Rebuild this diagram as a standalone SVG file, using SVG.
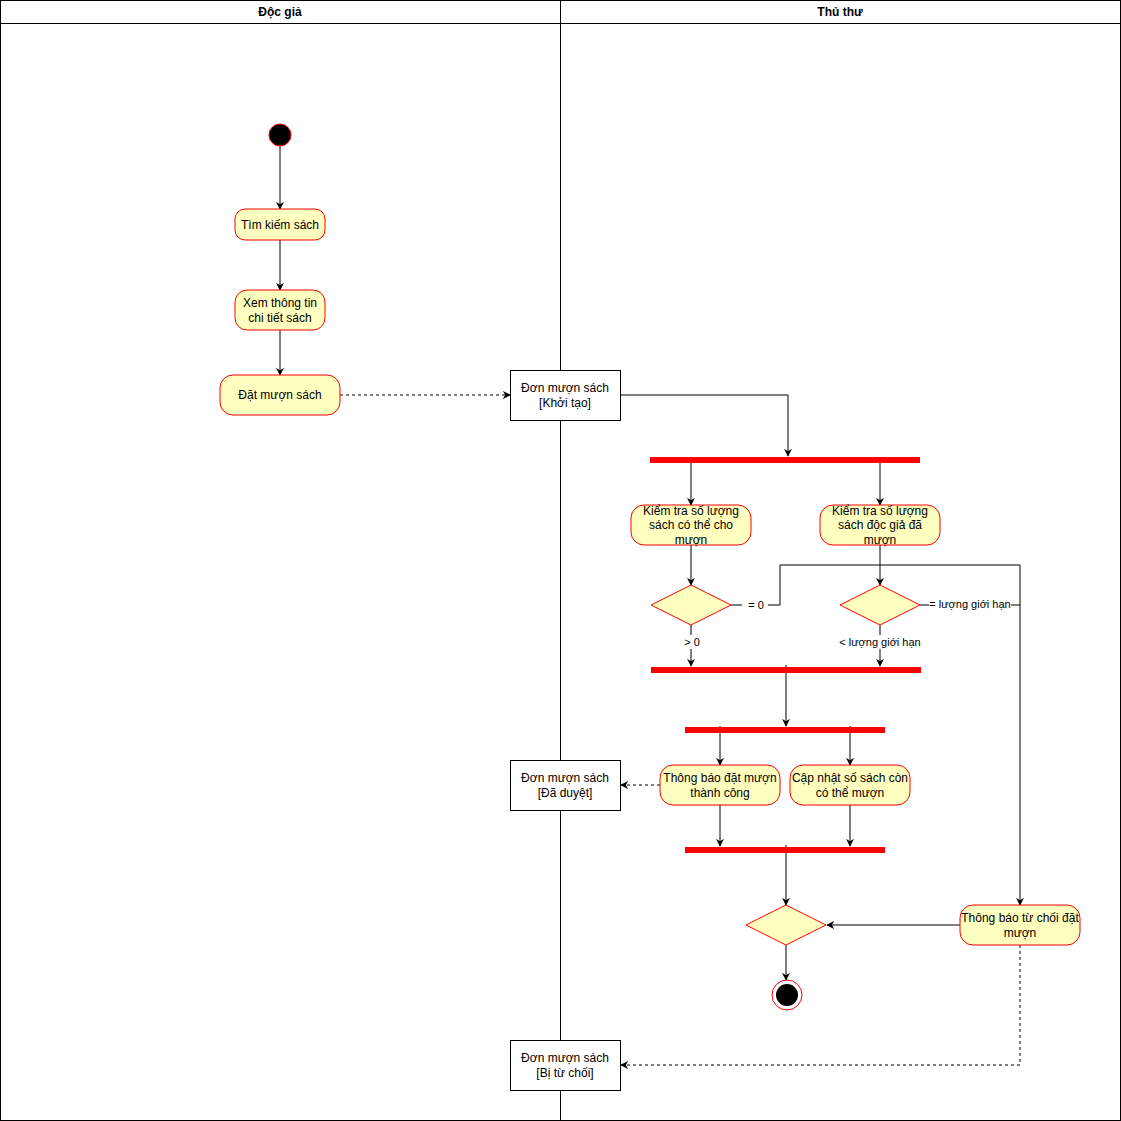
<svg xmlns="http://www.w3.org/2000/svg" width="1121" height="1121" viewBox="0 0 1121 1121">
<style>
text{font-family:"Liberation Sans",Arial,sans-serif;font-size:12px;fill:#000;text-anchor:middle}
.hdr{font-weight:bold}
.act{fill:#ffffc0;stroke:#ff0000;stroke-width:1}
.obj{fill:#fff;stroke:#000;stroke-width:1}
.bar{fill:#ff0000;stroke:none}
.ln{fill:none;stroke:#000;stroke-width:1}
.dash{fill:none;stroke:#000;stroke-width:1;stroke-dasharray:3 3}
.lbl{font-size:11px}
</style>
<defs>
<marker id="arr" viewBox="0 0 10 10" refX="9" refY="5" markerWidth="8" markerHeight="8" orient="auto" markerUnits="userSpaceOnUse">
<path d="M0,0 L10,5 L0,10 L3,5 Z" fill="#000"/>
</marker>
</defs>
<rect x="0" y="0" width="1121" height="1121" fill="#fff"/>
<g id="lanes">
<rect x="0.5" y="0.5" width="1120" height="1120" fill="none" stroke="#000"/>
<line x1="0" y1="23.5" x2="1121" y2="23.5" stroke="#000"/>
<line x1="560.5" y1="0" x2="560.5" y2="1121" stroke="#000"/>
<text class="hdr" x="280" y="16">Độc giả</text>
<text class="hdr" x="840" y="16">Thủ thư</text>
</g>
<g id="connectors">
<line class="ln" x1="280" y1="146" x2="280" y2="209" marker-end="url(#arr)"/>
<line class="ln" x1="280" y1="240" x2="280" y2="290" marker-end="url(#arr)"/>
<line class="ln" x1="280" y1="330" x2="280" y2="375" marker-end="url(#arr)"/>
<line class="dash" x1="340" y1="395" x2="510" y2="395" marker-end="url(#arr)"/>
<polyline class="ln" points="620,395 788,395 788,456" marker-end="url(#arr)"/>
<line class="ln" x1="691" y1="463" x2="691" y2="505" marker-end="url(#arr)"/>
<line class="ln" x1="880" y1="463" x2="880" y2="505" marker-end="url(#arr)"/>
<line class="ln" x1="691" y1="545" x2="691" y2="585" marker-end="url(#arr)"/>
<line class="ln" x1="880" y1="545" x2="880" y2="585" marker-end="url(#arr)"/>
<polyline class="ln" points="731,605 780,605 780,565 1020,565 1020,905" marker-end="url(#arr)"/>
<line class="ln" x1="920" y1="605" x2="1020" y2="605"/>
<line class="ln" x1="691" y1="625" x2="691" y2="666" marker-end="url(#arr)"/>
<line class="ln" x1="880" y1="625" x2="880" y2="666" marker-end="url(#arr)"/>
<line class="ln" x1="786" y1="665" x2="786" y2="726" marker-end="url(#arr)"/>
<line class="ln" x1="720" y1="726" x2="720" y2="765" marker-end="url(#arr)"/>
<line class="ln" x1="850" y1="726" x2="850" y2="765" marker-end="url(#arr)"/>
<line class="dash" x1="660" y1="785" x2="621" y2="785" marker-end="url(#arr)"/>
<line class="ln" x1="720" y1="805" x2="720" y2="846" marker-end="url(#arr)"/>
<line class="ln" x1="850" y1="805" x2="850" y2="846" marker-end="url(#arr)"/>
<line class="ln" x1="786" y1="845" x2="786" y2="905" marker-end="url(#arr)"/>
<line class="ln" x1="960" y1="925" x2="827" y2="925" marker-end="url(#arr)"/>
<line class="ln" x1="786" y1="945" x2="786" y2="980" marker-end="url(#arr)"/>
<polyline class="dash" points="1020,945 1020,1065 621,1065" marker-end="url(#arr)"/>
<rect x="742" y="598" width="26" height="14" fill="#fff"/>
<text class="lbl" x="756" y="609">= 0</text>
<rect x="929" y="597" width="82" height="14" fill="#fff"/>
<text class="lbl" x="970" y="608">= lượng giới hạn</text>
<rect x="682" y="635" width="20" height="14" fill="#fff"/>
<text class="lbl" x="692" y="646">&gt; 0</text>
<rect x="836" y="635" width="88" height="14" fill="#fff"/>
<text class="lbl" x="880" y="646">&lt; lượng giới hạn</text>
</g>
<g id="start"><circle cx="280" cy="135" r="11" fill="#000" stroke="#ff0000"/></g>
<g id="tim-kiem"><rect class="act" x="235" y="209" width="90" height="31" rx="10"/><text x="280" y="229">Tìm kiếm sách</text></g>
<g id="xem-thong-tin"><rect class="act" x="235" y="290" width="90" height="40" rx="12"/><text x="280" y="307">Xem thông tin</text><text x="280" y="322">chi tiết sách</text></g>
<g id="dat-muon"><rect class="act" x="220" y="375" width="120" height="40" rx="13"/><text x="280" y="399">Đặt mượn sách</text></g>
<g id="obj-khoi-tao"><rect class="obj" x="510.5" y="370.5" width="110" height="50"/><text x="565" y="392">Đơn mượn sách</text><text x="565" y="407">[Khởi tạo]</text></g>
<g id="fork1"><rect class="bar" x="650" y="457" width="270" height="6"/></g>
<g id="kiem-tra-1"><rect class="act" x="631" y="505" width="120" height="40" rx="13"/><text x="691" y="515">Kiểm tra số lượng</text><text x="691" y="529">sách có thể cho</text><text x="691" y="544">mượn</text></g>
<g id="kiem-tra-2"><rect class="act" x="820" y="505" width="120" height="40" rx="13"/><text x="880" y="515">Kiểm tra số lượng</text><text x="880" y="529">sách độc giả đã</text><text x="880" y="544">mượn</text></g>
<g id="dec1"><polygon class="act" points="651,605 691,585 731,605 691,625"/></g>
<g id="dec2"><polygon class="act" points="840,605 880,585 920,605 880,625"/></g>
<g id="join1"><rect class="bar" x="651" y="667" width="270" height="6"/></g>
<g id="fork2"><rect class="bar" x="685" y="727" width="200" height="6"/></g>
<g id="tb-thanh-cong"><rect class="act" x="660" y="765" width="120" height="40" rx="13"/><text x="720" y="782">Thông báo đặt mượn</text><text x="720" y="797">thành công</text></g>
<g id="cap-nhat"><rect class="act" x="790" y="765" width="120" height="40" rx="13"/><text x="850" y="782">Cập nhật số sách còn</text><text x="850" y="797">có thể mượn</text></g>
<g id="obj-da-duyet"><rect class="obj" x="510.5" y="760.5" width="110" height="50"/><text x="565" y="782">Đơn mượn sách</text><text x="565" y="797">[Đã duyệt]</text></g>
<g id="join2"><rect class="bar" x="685" y="847" width="200" height="6"/></g>
<g id="merge"><polygon class="act" points="746,925 786,905 826,925 786,945"/></g>
<g id="tb-tu-choi"><rect class="act" x="960" y="905" width="120" height="40" rx="13"/><text x="1020" y="922">Thông báo từ chối đặt</text><text x="1020" y="937">mượn</text></g>
<g id="end"><circle cx="787" cy="995" r="15" fill="#fff" stroke="#ff0000"/><circle cx="787" cy="995" r="11" fill="#000"/></g>
<g id="obj-tu-choi"><rect class="obj" x="510.5" y="1040.5" width="110" height="50"/><text x="565" y="1062">Đơn mượn sách</text><text x="565" y="1077">[Bị từ chối]</text></g>
</svg>
